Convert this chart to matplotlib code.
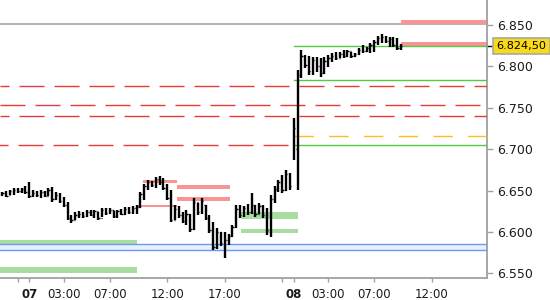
import numpy as np
import matplotlib.pyplot as plt
import matplotlib.transforms as mtransforms
from matplotlib.ticker import FuncFormatter

plt.rcParams['lines.scale_dashes'] = False

# 20 minute OHLC bars, first bar 21:40 on the 6th
# x is trading hours from 00:00 on the 7th (22:00-23:00 break removed)
opens = [6645, 6647, 6645, 6649, 6651, 6649, 6652, 6648, 6644, 6647,
         6645, 6648, 6644, 6651, 6640, 6645, 6637, 6632, 6617, 6614,
         6620, 6622, 6619, 6624, 6621, 6625, 6617, 6626, 6623, 6627,
         6619, 6625, 6622, 6628, 6624, 6629, 6630, 6646, 6655, 6660,
         6657, 6664, 6660, 6653, 6641, 6615, 6628, 6620, 6613, 6622,
         6604, 6636, 6624, 6632, 6617, 6602, 6582, 6600, 6587, 6590,
         6595, 6606, 6628, 6620, 6629, 6624, 6632, 6622, 6631, 6620,
         6602, 6640, 6652, 6660, 6651, 6670, 6690, 6700, 6790, 6812,
         6802, 6795, 6808, 6800, 6792, 6806, 6810, 6813, 6810, 6815,
         6812, 6818, 6813, 6815, 6820, 6818, 6822, 6826, 6829, 6834,
         6836, 6831, 6833, 6826, 6822]
highs = [6648.3, 6649.5, 6650.7, 6653.2, 6653.2, 6653.0, 6655.6, 6660.4, 6650.7, 6649.5,
         6650.7, 6649.5, 6653.2, 6654.4, 6648.3, 6647.1, 6642.3, 6636.2, 6620.5, 6624.2,
         6625.4, 6624.2, 6626.6, 6626.6, 6626.6, 6624.2, 6629.0, 6629.0, 6629.0, 6625.4,
         6626.6, 6627.8, 6630.2, 6630.2, 6631.4, 6632.6, 6648.3, 6658.0, 6662.8, 6661.6,
         6666.4, 6667.6, 6665.2, 6658.0, 6650.7, 6632.6, 6631.4, 6624.2, 6626.6, 6621.7,
         6641.1, 6635.0, 6641.1, 6632.6, 6620.5, 6612.1, 6604.8, 6600.0, 6600.0, 6597.6,
         6608.5, 6632.6, 6632.6, 6631.4, 6633.8, 6647.1, 6632.6, 6635.0, 6632.6, 6629.0,
         6644.7, 6655.6, 6662.8, 6668.8, 6674.9, 6671.0, 6737.7, 6795.7, 6819.8, 6813.8,
         6812.6, 6811.4, 6811.4, 6810.1, 6811.4, 6813.8, 6816.2, 6817.4, 6817.4, 6819.8,
         6819.8, 6817.4, 6816.2, 6822.2, 6825.8, 6823.4, 6828.3, 6831.9, 6836.7, 6839.1,
         6837.0, 6835.5, 6835.5, 6834.3, 6827.1]
lows = [6643.5, 6642.3, 6644.7, 6644.7, 6647.1, 6647.0, 6645.9, 6641.1, 6642.3, 6642.3,
        6641.1, 6642.3, 6643.5, 6636.2, 6638.7, 6635.0, 6630.2, 6614.5, 6610.9, 6614.5,
        6616.9, 6616.9, 6618.1, 6619.3, 6616.9, 6614.5, 6618.1, 6620.5, 6621.7, 6616.9,
        6616.9, 6620.5, 6620.5, 6621.7, 6621.7, 6621.7, 6629.0, 6638.7, 6650.7, 6654.4,
        6653.2, 6656.8, 6650.7, 6638.7, 6612.1, 6614.5, 6616.9, 6610.9, 6608.5, 6600.0,
        6602.0, 6620.5, 6622.0, 6614.5, 6598.8, 6578.3, 6580.0, 6583.1, 6568.6, 6584.3,
        6594.0, 6605.0, 6616.9, 6618.1, 6620.5, 6622.0, 6618.1, 6621.7, 6616.9, 6596.4,
        6594.0, 6635.0, 6648.3, 6647.1, 6650.0, 6650.7, 6687.0, 6650.7, 6786.0, 6798.1,
        6789.6, 6789.6, 6793.2, 6787.2, 6791.0, 6799.3, 6805.3, 6807.7, 6810.1, 6810.1,
        6811.4, 6810.1, 6811.4, 6813.8, 6816.2, 6817.4, 6816.2, 6817.4, 6825.8, 6828.3,
        6828.3, 6823.4, 6823.4, 6819.8, 6819.8]
closes = [6647, 6644, 6649, 6651, 6649, 6652, 6648, 6644, 6647, 6645,
          6648, 6644, 6651, 6640, 6645, 6637, 6632, 6617, 6614, 6620,
          6622, 6619, 6624, 6621, 6625, 6617, 6626, 6623, 6627, 6619,
          6625, 6622, 6628, 6624, 6629, 6630, 6646, 6655, 6660, 6657,
          6664, 6660, 6653, 6641, 6615, 6628, 6620, 6613, 6622, 6604,
          6636, 6624, 6638, 6617, 6602, 6582, 6600, 6587, 6590, 6595,
          6606, 6628, 6620, 6629, 6624, 6632, 6622, 6631, 6620, 6602,
          6640, 6652, 6660, 6651, 6670, 6655, 6725, 6790, 6812, 6802,
          6795, 6808, 6800, 6792, 6806, 6810, 6813, 6810, 6815, 6812,
          6818, 6813, 6815, 6820, 6818, 6822, 6826, 6829, 6834, 6836,
          6831, 6833, 6826, 6822, 6824.5]
last_price = 6824.5

gray_level = 6851.2
red_levels = [6776.3, 6753.0, 6740.1]
red_level_to_open = 6704.7
green_levels = [6824.6, 6783.6, 6704.7]
orange_level = 6715.6
blue_zone = (6578.3, 6585.9)

# zones: (low, high, start hour, end hour)
red_zones = [(6851.5, 6856.0, 32.33, 41), (6825.0, 6829.8, 32.33, 41),
             (6659.2, 6662.8, 9.9, 12.85), (6652.0, 6656.8, 12.85, 17.45),
             (6637.5, 6642.3, 12.85, 17.45), (6630.2, 6632.6, 9.35, 12.85)]
green_zones = [(6615.7, 6624.2, 18.4, 23.35), (6598.8, 6603.6, 18.4, 23.35),
               (6585.5, 6590.4, -3, 9.35), (6550.5, 6557.7, -3, 9.35)]

tick_hours = [-1, 0, 3, 7, 12, 17, 22, 23, 26, 30, 35]
tick_labels = ['', '07', '03:00', '07:00', '12:00', '17:00', '', '08', '03:00', '07:00', '12:00']

salmon = '#f89494'
light_green = '#a8dca0'
line_green = '#55c845'
red = '#e63a3a'
dash_a = (11.5, (18, 7.2))
dash_b = (0, (18, 7.2))

fig = plt.figure(figsize=(5.5, 3), dpi=100)
ax = fig.add_axes([0, 22 / 300, 487.3 / 550, 278 / 300])

t = np.arange(len(closes)) / 3 - 7 / 3
x_end = 41

# levels and zones
ax.axhline(gray_level, color='#a8a8a8', lw=1.2, zorder=1)
for lo, hi, a, b in red_zones:
    ax.fill_between([a, b], lo, hi, color=salmon, lw=0, zorder=2)
for lo, hi, a, b in green_zones:
    ax.fill_between([a, b], lo, hi, color=light_green, lw=0, zorder=2)
ax.fill_between([-3, x_end], blue_zone[0], blue_zone[1], color='#e8efff', lw=0, zorder=1)
for v in blue_zone:
    ax.axhline(v, color='#6b9bef', lw=1.0, zorder=3)

ax.axhline(red_levels[0], color=red, lw=1.0, ls=dash_a, zorder=3)
ax.axhline(red_levels[1], color=red, lw=1.0, ls=dash_b, zorder=3)
ax.axhline(red_levels[2], color=red, lw=1.0, ls=dash_a, zorder=3)
ax.plot([-3, 22.5], [red_level_to_open] * 2, color=red, lw=1.0, ls=dash_a, zorder=3)
for v in green_levels:
    ax.plot([23, x_end], [v, v], color=line_green, lw=1.0, zorder=3)
ax.plot([23, x_end], [orange_level] * 2, color='#ffbe1e', lw=1.0, ls=(0, (14, 11)), zorder=3)

# OHLC bars
ax.vlines(t, lows, highs, color='black', lw=1.7, zorder=5)
ax.hlines(opens, t - 0.11, t, color='black', lw=1.0, zorder=5)
ax.hlines(closes, t, t + 0.11, color='black', lw=1.0, zorder=5)

ax.set_xlim(-29.3 / 11.5, (487.3 - 29.3) / 11.5)
ax.set_ylim(6544.4, 6880.2)

for s in ['top', 'left']:
    ax.spines[s].set_visible(False)
for s in ['right', 'bottom']:
    ax.spines[s].set_color('#a0a0a0')
    ax.spines[s].set_linewidth(1.3)

ax.yaxis.tick_right()
ax.set_yticks(np.arange(6550, 6851, 50))
ax.yaxis.set_major_formatter(FuncFormatter(lambda v, p: f'{v / 1000:.3f}'))
ax.tick_params(axis='y', length=4, width=1, color='#a0a0a0', pad=3,
               labelsize=9, labelcolor='#1a1a1a')
ax.set_xticks(tick_hours)
ax.set_xticklabels(tick_labels)
ax.tick_params(axis='x', length=3, width=1, color='#a0a0a0', pad=4,
               labelsize=8.5, labelcolor='#1a1a1a')
for lab in ax.get_xticklabels():
    if lab.get_text() in ('07', '08'):
        lab.set_fontweight('bold')

# current price label
trans = mtransforms.blended_transform_factory(ax.transAxes, ax.transData)
ax.plot([1.0, 1.012], [last_price] * 2, color='black', lw=1, transform=trans, clip_on=False)
ax.text(1.019, last_price, '6.824,50', transform=trans, ha='left', va='center',
        fontsize=8.1, color='black',
        bbox=dict(boxstyle='square,pad=0.3', fc='#fada14', ec='#a8a8a8', lw=1.2))

fig.savefig('out.png', dpi=100)
